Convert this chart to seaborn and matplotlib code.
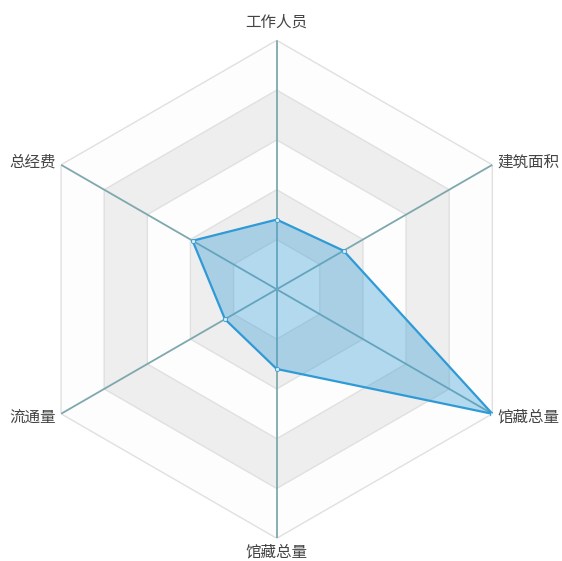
import numpy as np
import matplotlib
matplotlib.use("Agg")
import matplotlib.pyplot as plt
import seaborn as sns

# Data
indicators = ["工作人员", "建筑面积", "馆藏总量", "馆藏总量", "流通量", "总经费"]
values = [28, 31, 100, 32, 24, 39]
max_value = 100
n_rings = 5

sns.set_theme(style="white")
plt.rcParams["font.family"] = ["Noto Sans CJK SC", "DejaVu Sans"]

W, H = 562, 561
fig = plt.figure(figsize=(W / 100, H / 100), dpi=100)
cx, cy, R = 276.7, 289.3, 249.0
ax = fig.add_axes([(cx - R) / W, (H - cy - R) / H, 2 * R / W, 2 * R / H], projection="polar")
ax.set_theta_offset(np.pi / 2)
ax.set_theta_direction(-1)
ax.set_ylim(0, max_value)
ax.set_axis_off()

n = len(indicators)
angles = np.arange(n) * 2 * np.pi / n
closed = np.append(angles, angles[0])

# split areas (alternating) and split lines
area_colors = ["#fdfdfd", "#eeeeee"]
for i in range(n_rings, 0, -1):
    r = max_value * i / n_rings
    ax.fill(closed, [r] * (n + 1), color=area_colors[(i - 1) % 2], lw=0, zorder=1)
for i in range(n_rings, 0, -1):
    r = max_value * i / n_rings
    ax.plot(closed, [r] * (n + 1), color="#e0e0e0", lw=1.0, zorder=2)

# axis lines
for a in angles:
    ax.plot([a, a], [0, max_value], color="#7ea8ae", lw=1.3, zorder=3)

# data
vals = np.append(values, values[0])
ax.fill(closed, vals, color="#3a9fd8", alpha=0.38, lw=0, zorder=4)
ax.plot(closed, vals, color="#2f9ad6", lw=1.6, zorder=5)
ax.plot(angles, values, "o", ms=3, mfc="#d8ecf7", mec="#2f9ad6", mew=0.6, zorder=6)

# labels
label_pos = [
    (107.5, "center", "center"),
    (102.5, "left", "center"),
    (102.5, "left", "center"),
    (105.5, "center", "center"),
    (102.5, "right", "center"),
    (102.5, "right", "center"),
]
for a, name, (r, ha, va) in zip(angles, indicators, label_pos):
    ax.text(a, r, name, ha=ha, va=va, fontsize=11.2, color="#444444", clip_on=False)

fig.savefig("out.png", dpi=100, facecolor="white")
